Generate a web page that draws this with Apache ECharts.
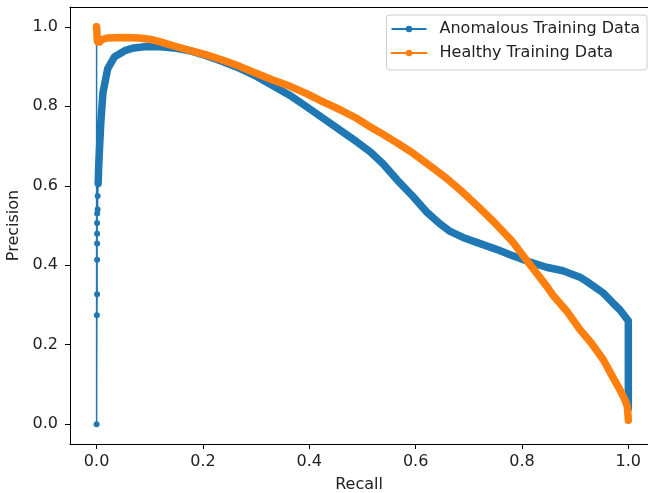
<!DOCTYPE html>
<html>
<head>
<meta charset="utf-8">
<script src="https://cdn.jsdelivr.net/npm/echarts@6/dist/echarts.min.js"></script>
<style>
  html, body { margin: 0; padding: 0; background: #fff; }
  #pr-view { width: 648px; height: 493px; }
</style>
</head>
<body>
<div id="pr-view"></div>
<script>
// tick labels on both axes
var recallTicks = [0, 0.2, 0.4, 0.6, 0.8, 1.0];
var precisionTicks = [0, 0.2, 0.4, 0.6, 0.8, 1.0];

// anomalous curve, dense part (read right to left)
var anomRecall = [1.0, 1.0, 0.984, 0.971, 0.953, 0.921, 0.909, 0.877, 0.846, 0.808, 0.78, 0.752, 0.72, 0.689, 0.665, 0.645, 0.62, 0.595, 0.565, 0.539, 0.515, 0.489, 0.46, 0.426, 0.395, 0.363, 0.33, 0.30, 0.27, 0.238, 0.205, 0.175, 0.15, 0.12, 0.09, 0.07, 0.053, 0.034, 0.021, 0.012, 0.008, 0.006, 0.004, 0.003];
var anomPrecision = [0.04, 0.26, 0.288, 0.305, 0.33, 0.36, 0.37, 0.386, 0.395, 0.411, 0.425, 0.44, 0.455, 0.47, 0.485, 0.505, 0.535, 0.573, 0.615, 0.655, 0.685, 0.711, 0.738, 0.77, 0.799, 0.828, 0.853, 0.876, 0.895, 0.912, 0.928, 0.94, 0.946, 0.95, 0.95, 0.947, 0.94, 0.925, 0.895, 0.835, 0.76, 0.708, 0.65, 0.606];

// anomalous curve, sparse tail near recall 0
var anomTailRecall = [0.003, 0.002, 0.002, 0.001, 0.001, 0.001, 0.001, 0.001, 0.001, 0.0005, 0, 0];
var anomTailPrecision = [0.606, 0.574, 0.54, 0.53, 0.506, 0.479, 0.455, 0.414, 0.327, 0.274, 0, 1.0];

// healthy curve (read right to left)
var healthyRecall = [1.0, 0.999, 0.998, 0.994, 0.984, 0.97, 0.953, 0.93, 0.909, 0.884, 0.859, 0.846, 0.808, 0.783, 0.75, 0.721, 0.69, 0.658, 0.625, 0.595, 0.565, 0.532, 0.51, 0.489, 0.457, 0.426, 0.395, 0.363, 0.33, 0.30, 0.27, 0.238, 0.205, 0.175, 0.15, 0.12, 0.103, 0.08, 0.05, 0.02, 0.01, 0.006, 0.004, 0.002, 0.001, 0.001, 0.0005, 0];
var healthyPrecision = [0.01, 0.03, 0.045, 0.06, 0.087, 0.12, 0.162, 0.205, 0.238, 0.285, 0.323, 0.348, 0.414, 0.458, 0.505, 0.543, 0.582, 0.619, 0.652, 0.682, 0.708, 0.735, 0.752, 0.77, 0.792, 0.811, 0.832, 0.851, 0.867, 0.883, 0.9, 0.916, 0.93, 0.941, 0.95, 0.962, 0.968, 0.972, 0.973, 0.972, 0.968, 0.962, 0.968, 0.962, 0.958, 0.97, 0.99, 1.0];

function pairs(xs, ys) {
  return xs.map(function (x, i) { return [x, ys[i]]; });
}

var BLUE = "#1f77b4";
var ORANGE = "#ff7f0e";
var TEXT = "#222";
var FONT = "DejaVu Sans";

var myChart = echarts.init(document.getElementById("pr-view"), null, { renderer: "canvas" });
myChart.setOption({
  animation: false,
  textStyle: { fontFamily: FONT },
  grid: {
    left: 70,
    right: 0,
    top: 7,
    bottom: 49,
    containLabel: false,
    outerBoundsMode: "none",
  },
  legend: {
    orient: "vertical",
    right: 1,
    top: 15,
    data: ["Anomalous Training Data", "Healthy Training Data"],
    itemWidth: 35,
    itemHeight: 8,
    itemGap: 6,
    padding: [5, 7, 8, 4],
    backgroundColor: "#fff",
    borderColor: "#ccc",
    borderWidth: 1,
    borderRadius: 3,
    lineStyle: { width: 2 },
    textStyle: { fontFamily: FONT, fontSize: 16, color: TEXT, lineHeight: 18, padding: [0, 0, 0, 8] },
  },
  xAxis: [
    {
      type: "value",
      min: -0.05,
      // the right spine sits just outside the picture
      max: 1.037,
      name: "Recall",
      nameLocation: "middle",
      nameGap: 33,
      nameTextStyle: { fontFamily: FONT, fontSize: 16, color: TEXT },
      axisLine: { show: true, onZero: false, lineStyle: { color: "#000", width: 1 } },
      axisTick: { show: true, length: 5, customValues: recallTicks, lineStyle: { color: "#000" } },
      axisLabel: {
        customValues: recallTicks,
        margin: 10,
        fontFamily: FONT,
        fontSize: 16,
        color: TEXT,
        formatter: function (v) { return v.toFixed(1); },
      },
      splitLine: { show: false },
    },
    {
      // top spine only
      type: "value",
      position: "top",
      min: -0.05,
      max: 1.037,
      axisLine: { show: true, onZero: false, lineStyle: { color: "#000", width: 1 } },
      axisTick: { show: false },
      axisLabel: { show: false },
      splitLine: { show: false },
    },
  ],
  yAxis: {
    type: "value",
    min: -0.05,
    max: 1.05,
    name: "Precision",
    nameLocation: "middle",
    nameGap: 41,
    nameRotate: 90,
    nameTextStyle: { fontFamily: FONT, fontSize: 16, color: TEXT },
    axisLine: { show: true, onZero: false, lineStyle: { color: "#000", width: 1 } },
    axisTick: { show: true, length: 5, customValues: precisionTicks, lineStyle: { color: "#000" } },
    axisLabel: {
      customValues: precisionTicks,
      margin: 12,
      fontFamily: FONT,
      fontSize: 16,
      color: TEXT,
      formatter: function (v) { return v.toFixed(1); },
    },
    splitLine: { show: false },
  },
  series: [
    {
      name: "Anomalous Training Data",
      type: "line",
      data: pairs(anomTailRecall, anomTailPrecision),
      symbol: "circle",
      symbolSize: 6,
      showAllSymbol: true,
      color: BLUE,
      itemStyle: { color: BLUE },
      lineStyle: { color: BLUE, width: 1.5 },
      z: 2,
    },
    {
      name: "Anomalous Training Data",
      type: "line",
      data: pairs(anomRecall, anomPrecision),
      symbol: "circle",
      showSymbol: false,
      color: BLUE,
      lineStyle: { color: BLUE, width: 7.5, cap: "round", join: "round" },
      z: 3,
    },
    {
      name: "Healthy Training Data",
      type: "line",
      data: pairs(healthyRecall, healthyPrecision),
      symbol: "circle",
      symbolSize: 6,
      showSymbol: false,
      color: ORANGE,
      itemStyle: { color: ORANGE },
      lineStyle: { color: ORANGE, width: 7.5, cap: "round", join: "round" },
      z: 4,
    },
  ],
});
</script>
</body>
</html>
